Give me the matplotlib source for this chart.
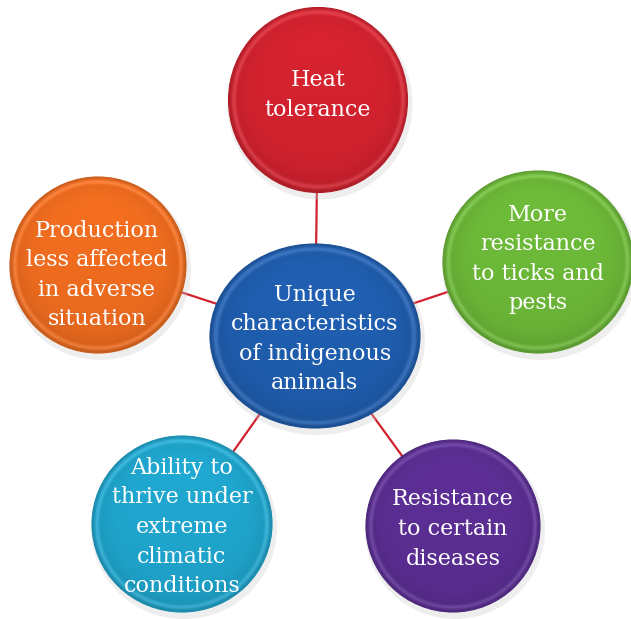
import numpy as np
import matplotlib
matplotlib.use("Agg")
import matplotlib.pyplot as plt
from matplotlib.patches import Ellipse
from matplotlib.colors import to_rgb

# labels of the bubbles
center_label = "Unique\ncharacteristics\nof indigenous\nanimals"
labels = [
    "Heat\ntolerance",
    "More\nresistance\nto ticks and\npests",
    "Resistance\nto certain\ndiseases",
    "Ability to\nthrive under\nextreme\nclimatic\nconditions",
    "Production\nless affected\nin adverse\nsituation",
]
colors = ["#d3222f", "#6cb838", "#5b2e93", "#1fa5cd", "#ef6c1f"]
center_color = "#1f5dae"

# layout in pixels (x, y, width, height)
center_box = (315, 336, 210, 184)
boxes = [
    (318, 100, 179, 185),
    (538, 262, 190, 182),
    (453, 526, 174, 172),
    (182, 524, 180, 176),
    (98, 265, 176, 176),
]
text_pos = [(318, 95), (538, 259), (453, 529), (182, 527), (97, 275)]
center_text = (315, 339)

fig = plt.figure(figsize=(6.31, 6.19), dpi=100)
ax = fig.add_axes([0, 0, 1, 1])
ax.set_xlim(0, 631)
ax.set_ylim(619, 0)
ax.axis("off")

# connectors
for (x, y, w, h) in boxes:
    ax.plot([center_box[0], x], [center_box[1], y], color="#d0232e", lw=1.6, zorder=1)


def bubble(x, y, w, h, color, z):
    # soft shadow
    ax.add_patch(Ellipse((x + 2, y + 4), w + 6, h + 6, color="#c8c8c8",
                         alpha=0.3, lw=0, zorder=z))
    # shaded body
    n = 200
    xx, yy = np.meshgrid(np.linspace(-1, 1, n), np.linspace(-1, 1, n))
    r = np.sqrt(xx ** 2 + yy ** 2)
    base = np.array(to_rgb(color))
    shade = 1.0 - 0.15 * np.clip(r, 0, 1) ** 8 - 0.04 * yy
    img = np.clip(base[None, None, :] * shade[..., None], 0, 1)
    # faint light rim
    rim = np.exp(-((r - 0.95) / 0.025) ** 2) * 0.12
    img = np.clip(img + rim[..., None], 0, 1)
    im = ax.imshow(img, extent=(x - w / 2, x + w / 2, y + h / 2, y - h / 2),
                   zorder=z + 1, interpolation="bilinear")
    clip = Ellipse((x, y), w, h, transform=ax.transData, fc="none", ec="none")
    ax.add_patch(clip)
    im.set_clip_path(clip)
    ax.add_patch(Ellipse((x, y), w, h, fc="none",
                         ec=tuple(base * 0.85), lw=0.8, zorder=z + 2))


for (x, y, w, h), c in zip(boxes, colors):
    bubble(x, y, w, h, c, 3)
bubble(*center_box, center_color, 6)

# keep the axes limits after imshow
ax.set_xlim(0, 631)
ax.set_ylim(619, 0)
ax.set_aspect("auto")

for lab, (tx, ty) in zip(labels, text_pos):
    ax.text(tx, ty, lab, color="white", fontsize=16, family="DejaVu Serif",
            ha="center", va="center", linespacing=1.45, zorder=10)
ax.text(*center_text, center_label, color="white", fontsize=16,
        family="DejaVu Serif", ha="center", va="center", linespacing=1.45, zorder=10)

fig.savefig("out.png", dpi=100, facecolor="white")
